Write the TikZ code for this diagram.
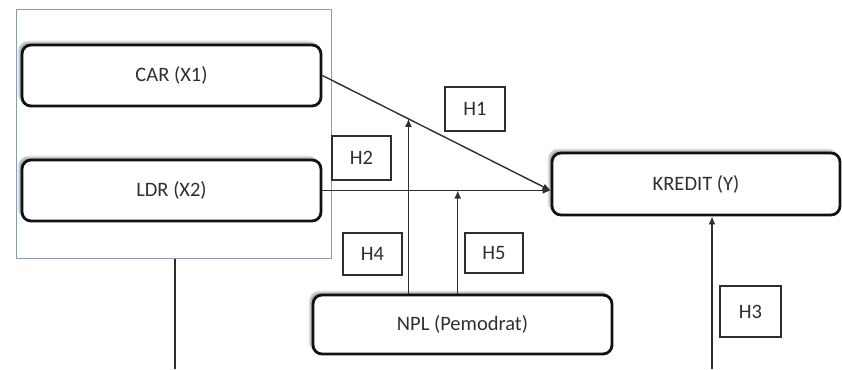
\documentclass[tikz,border=0pt]{standalone}
\usepackage{fontspec}
\setmainfont{Carlito}
\usepackage{xcolor}
\definecolor{cMain}{HTML}{111111}
\definecolor{cText}{HTML}{2F2F2F}
\definecolor{cLine}{HTML}{2E2E2E}
\definecolor{cFrame}{HTML}{8A9BB5}
\usepackage{tikz}
\usetikzlibrary{arrows.meta,calc,shadows.blur}
\tikzset{
  node-var/.style={draw=cMain,line width=2.8pt,rounded corners=9pt,fill=white,
    text=cText,font=\fontsize{20.5}{24}\selectfont,align=center,
    blur shadow={shadow xshift=-3pt,shadow yshift=3pt,shadow opacity=35,
      shadow blur steps=6}},
  node-hyp/.style={draw=cLine,line width=1.3pt,fill=white,text=cText,
    font=\fontsize{20.5}{24}\selectfont,inner sep=0pt},
  node-group/.style={draw=cFrame,line width=1pt,inner sep=0pt},
  arrow/.style={-{Latex[length=8pt,width=7pt]},line width=1.4pt,draw=cLine},
  link/.style={line width=1.4pt,draw=cLine},
}
\begin{document}
\begin{tikzpicture}[x=1pt,y=-1pt]
  \useasboundingbox (0,0) rectangle (842,369);
  % kelompok variabel independen
  \node[node-group,minimum width=315pt,minimum height=248pt] (grp) at (173.5,134) {};
  \node[node-var,minimum width=299pt,minimum height=61pt] (car) at (171.5,75.5) {CAR (X1)};
  \node[node-var,minimum width=299pt,minimum height=61pt] (ldr) at (171.5,190.5) {LDR (X2)};
  \node[node-var,minimum width=288pt,minimum height=62pt] (kredit) at (696,184) {KREDIT (Y)};
  \node[node-var,minimum width=299pt,minimum height=59pt] (npl) at (462.5,324.5) {NPL (Pemodrat)};

  \coordinate (kend) at (ldr.east -| kredit.west);
  \coordinate (xbot) at (175,369);
  \coordinate (ybot) at (712,369);
  \coordinate (m1) at ($(car.east)!0.377!(kend)$);
  \coordinate (m2) at ($(ldr.east)!0.593!(kend)$);

  \draw[arrow] (car.east) -- (kend);
  \draw[arrow] (ldr.east) -- (kend);
  \draw[arrow] (npl.north -| m1) -- (m1);
  \draw[arrow] (npl.north -| m2) -- (m2);
  \draw[arrow] (ybot) -- (ybot |- kredit.south);
  \draw[link] (grp.south -| xbot) -- (xbot);

  % label hipotesis
  \node[node-hyp,minimum width=60pt,minimum height=44pt] (h1) at (475,109) {H1};
  \node[node-hyp,minimum width=59pt,minimum height=44pt] (h2) at (361.5,158) {H2};
  \node[node-hyp,minimum width=61pt,minimum height=51pt] (h3) at (750.5,311.5) {H3};
  \node[node-hyp,minimum width=59pt,minimum height=42pt] (h4) at (372.5,254) {H4};
  \node[node-hyp,minimum width=58pt,minimum height=40pt] (h5) at (494,253) {H5};
\end{tikzpicture}
\end{document}
